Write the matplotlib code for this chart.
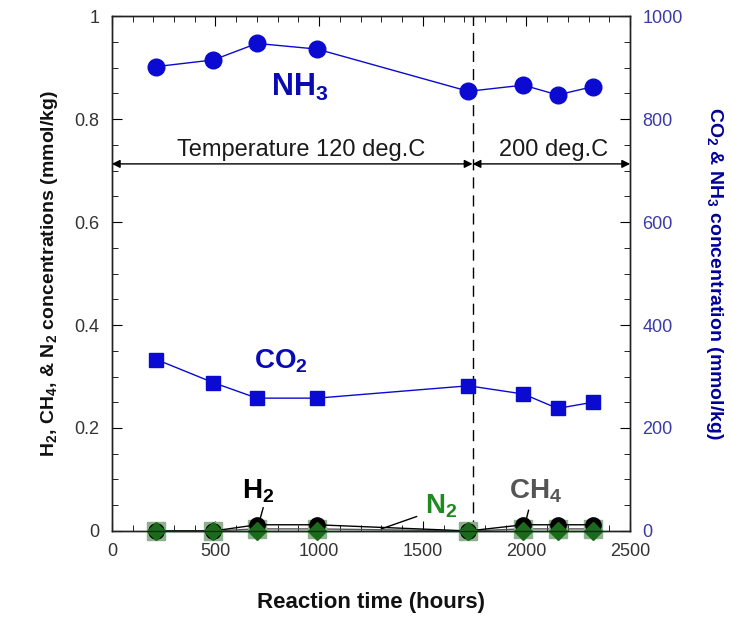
import matplotlib
matplotlib.use("Agg")
import matplotlib.pyplot as plt
from matplotlib.ticker import MultipleLocator, FuncFormatter

plt.rcParams['font.family'] = ['Liberation Sans', 'DejaVu Sans']
plt.rcParams['mathtext.fontset'] = 'custom'
plt.rcParams['mathtext.rm'] = 'Liberation Sans:bold'
plt.rcParams['mathtext.it'] = 'Liberation Sans:bold'
plt.rcParams['mathtext.bf'] = 'Liberation Sans:bold'
plt.rcParams['mathtext.default'] = 'rm'

# Sampling times (hours)
hours = [215, 490, 700, 990, 1720, 1985, 2150, 2320]

# Concentrations, mmol/kg
nh3 = [902, 915, 947, 936, 854, 866, 847, 863]
co2 = [333, 288, 258, 258, 282, 266, 238, 250]
h2 = [0.0, 0.0, 0.012, 0.012, 0.0, 0.012, 0.012, 0.012]
ch4 = [0.0, 0.0, 0.004, 0.004, 0.0, 0.004, 0.004, 0.004]
n2 = [0.0, 0.0, 0.0, 0.0, 0.0, 0.0, 0.0, 0.0]

temp_switch = 1740
x_ticks = [0, 500, 1000, 1500, 2000, 2500]
left_ticks = [0, 0.2, 0.4, 0.6, 0.8, 1.0]
right_ticks = [0, 200, 400, 600, 800, 1000]

fig = plt.figure(figsize=(7.31, 6.21), dpi=100)
ax = fig.add_axes([0.153, 0.145, 0.709, 0.829])
ax2 = ax.twinx()

blue = '#0a0ad0'
dark_blue = '#00009a'
green = '#1c6b1c'
light_green = '#8db08d'

# Minor gases on the left axis
ax.plot(hours, ch4, color='#555555', lw=1.0, marker='s', ms=13,
        mfc=light_green, mec=light_green, clip_on=False, zorder=3)
ax.plot(hours, h2, color='black', lw=1.0, marker='o', ms=11,
        mfc='black', mec='black', clip_on=False, zorder=4)
ax.plot(hours, n2, color=green, lw=1.0, marker='D', ms=9,
        mfc=green, mec=green, clip_on=False, zorder=5)

# Major gases on the right axis
ax2.plot(hours, nh3, color=blue, lw=1.0, marker='o', ms=12,
         mfc=blue, mec=blue, clip_on=False)
ax2.plot(hours, co2, color=blue, lw=1.0, marker='s', ms=10,
         mfc=blue, mec=blue, clip_on=False)

# Temperature change
ax.axvline(temp_switch, color='black', lw=1.0, ls=(0, (8, 5)), zorder=2)
arrow_y = 0.713
ax.annotate('', xy=(0, arrow_y), xytext=(temp_switch, arrow_y),
            arrowprops=dict(arrowstyle='<|-|>', color='black', lw=1.0,
                            mutation_scale=12, shrinkA=0, shrinkB=0))
ax.annotate('', xy=(temp_switch, arrow_y), xytext=(2500, arrow_y),
            arrowprops=dict(arrowstyle='<|-|>', color='black', lw=1.0,
                            mutation_scale=12, shrinkA=0, shrinkB=0))
ax.text(912, 0.74, 'Temperature 120 deg.C', ha='center', va='center',
        fontsize=17, color='#1a1a1a')
ax.text(2130, 0.74, '200 deg.C', ha='center', va='center',
        fontsize=17, color='#1a1a1a')

# Series labels
label_kw = dict(ha='center', va='center', fontweight='bold')
ax.text(905, 0.862, 'NH$_3$', fontsize=22, color='#0a0ab4', **label_kw)
ax.text(815, 0.33, 'CO$_2$', fontsize=20, color='#0a0ab4', **label_kw)
ax.text(705, 0.078, 'H$_2$', fontsize=20, color='black', **label_kw)
ax.text(1590, 0.048, 'N$_2$', fontsize=20, color='#1f8a1f', **label_kw)
ax.text(2045, 0.078, 'CH$_4$', fontsize=20, color='#555555', **label_kw)
ax.plot([730, 710], [0.045, 0.016], color='black', lw=1.0)
ax.plot([1470, 1300], [0.028, 0.004], color='black', lw=1.0)
ax.plot([2010, 1995], [0.04, 0.016], color='black', lw=1.0)

# Axes limits and ticks
ax.set_xlim(0, 2500)
ax.set_ylim(0, 1)
ax2.set_ylim(0, 1000)
ax.set_xticks(x_ticks)
ax.set_yticks(left_ticks)
ax2.set_yticks(right_ticks)
ax.xaxis.set_minor_locator(MultipleLocator(100))
ax.yaxis.set_minor_locator(MultipleLocator(0.05))
ax2.yaxis.set_minor_locator(MultipleLocator(50))
ax.yaxis.set_major_formatter(FuncFormatter(lambda v, p: f'{v:g}'))

ax.tick_params(axis='both', which='both', direction='in', top=True)
ax.tick_params(axis='both', which='major', length=7, labelsize=13,
               labelcolor='#333333', pad=9)
ax.tick_params(axis='both', which='minor', length=4)
ax.tick_params(axis='y', right=False)
ax2.tick_params(axis='y', which='both', direction='in')
ax2.tick_params(axis='y', which='major', length=7, labelsize=13,
                labelcolor='#3b3ba8', pad=9)
ax2.tick_params(axis='y', which='minor', length=4)

for a in (ax, ax2):
    for s in a.spines.values():
        s.set_linewidth(1.0)
        s.set_color('#222222')

ax.set_xlabel('Reaction time (hours)', fontsize=16, fontweight='bold',
              labelpad=23, color='#111111')
ax.set_ylabel('H$_2$, CH$_4$, & N$_2$ concentrations (mmol/kg)', fontsize=14,
              fontweight='bold', labelpad=10, color='#111111')
ax2.set_ylabel('CO$_2$ & NH$_3$ concentration (mmol/kg)', fontsize=14,
               fontweight='bold', color=dark_blue, rotation=270, labelpad=30)

fig.savefig('out.png', dpi=100)
